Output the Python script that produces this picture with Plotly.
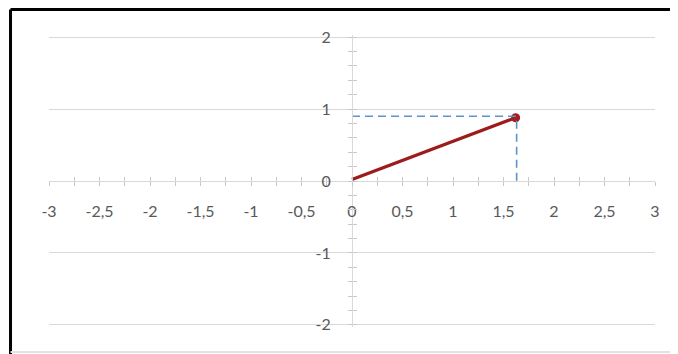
import plotly.graph_objects as go

# ---------------------------- data ----------------------------
x_tick_vals = [-3, -2.5, -2, -1.5, -1, -0.5, 0, 0.5, 1, 1.5, 2, 2.5, 3]
x_tick_labels = ["-3", "-2,5", "-2", "-1,5", "-1", "-0,5", "0", "0,5", "1", "1,5", "2", "2,5", "3"]
y_tick_vals = [-2, -1, 0, 1, 2]
y_tick_labels = ["-2", "-1", "0", "1", "2"]

# vector from the origin to the point
vec_x = [0, 1.62]
vec_y = [0.02, 0.88]

# dashed projection lines
guide_x = [0, 1.63, 1.63]
guide_y = [0.9, 0.9, 0]

# ---------------------------- figure ----------------------------
axis_col = "#d9d9d9"
tick_col = "#c8c8c8"
text_col = "#595959"

fig = go.Figure()

# dashed guide lines
fig.add_trace(go.Scatter(
    x=guide_x, y=guide_y, mode="lines",
    line=dict(color="#5b93cc", width=1.6, dash="8px,5px"),
    xaxis="x2", yaxis="y2",
))

# vector line
fig.add_trace(go.Scatter(
    x=vec_x, y=vec_y, mode="lines",
    line=dict(color="#9e1b1b", width=3.2),
))

# end point
fig.add_trace(go.Scatter(
    x=vec_x[-1:], y=vec_y[-1:], mode="markers",
    marker=dict(color="#a51d1d", size=9, line=dict(width=0)),
))

common_x = dict(range=[-3, 3], tickvals=x_tick_vals, ticklen=4, tickcolor=tick_col,
                showgrid=False, zeroline=False, anchor="free", position=0.5)
# slightly padded range so the gridlines at +-2 are drawn
common_y = dict(range=[-2.03, 2.03], tickvals=y_tick_vals, ticklen=4, tickcolor=tick_col,
                zeroline=False, anchor="free", position=0.5)

# the page body adds an 8px margin, so the figure is 8px smaller than the window
fig.update_layout(
    width=670, height=346,
    margin=dict(l=41, r=23, t=27, b=27),
    paper_bgcolor="white", plot_bgcolor="white",
    showlegend=False,
    font=dict(family="Lato", size=16, color=text_col),
    xaxis=dict(
        **common_x, ticktext=x_tick_labels, ticks="outside",
        showline=True, linecolor=axis_col, linewidth=1,
        ticklabelstandoff=12,
        minor=dict(dtick=0.25, tick0=0, ticks="outside", ticklen=4, tickcolor=tick_col),
    ),
    yaxis=dict(
        **common_y, ticktext=y_tick_labels, ticks="outside",
        showline=True, linecolor=axis_col, linewidth=1,
        showgrid=True, gridcolor=axis_col, gridwidth=1,
        ticklabelstandoff=14,
        minor=dict(dtick=0.2, tick0=0, ticks="outside", ticklen=4, tickcolor=tick_col),
    ),
    xaxis2=dict(
        **common_x, overlaying="x", matches="x", ticks="inside", showticklabels=False,
        minor=dict(dtick=0.25, tick0=0, ticks="inside", ticklen=4, tickcolor=tick_col),
    ),
    yaxis2=dict(
        **common_y, overlaying="y", matches="y", ticks="inside", showticklabels=False,
        showgrid=False,
        minor=dict(dtick=0.2, tick0=0, ticks="inside", ticklen=4, tickcolor=tick_col),
    ),
)

# frame of the original screenshot
fig.add_shape(type="line", xref="paper", yref="paper",
              x0=-0.0635, x1=1.05, y0=1.0873, y1=1.0873,
              line=dict(color="black", width=3))
fig.add_shape(type="line", xref="paper", yref="paper",
              x0=-0.0635, x1=-0.0635, y0=-0.11, y1=1.0873,
              line=dict(color="black", width=3))
fig.add_shape(type="line", xref="paper", yref="paper",
              x0=-0.0635, x1=1.05, y0=-0.0856, y1=-0.0856,
              line=dict(color="#e3e3e3", width=2))

fig.write_html("out.html")
